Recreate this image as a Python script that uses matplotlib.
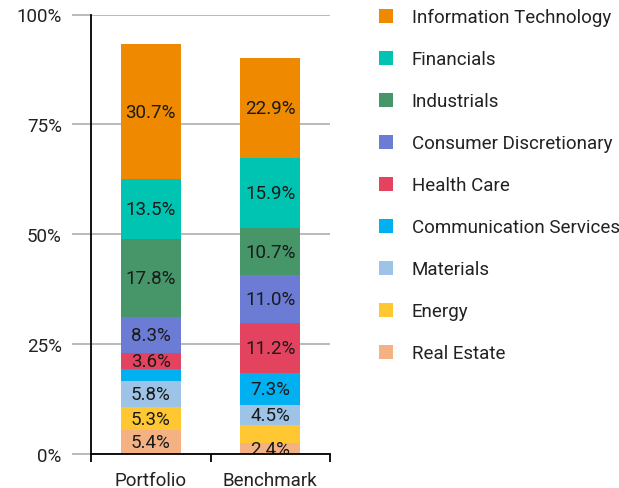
import matplotlib.pyplot as plt
from matplotlib.patches import Patch
from matplotlib.ticker import FixedLocator

plt.rcParams['font.family'] = ['Roboto', 'DejaVu Sans']

# sector weights (%), stacked bottom to top
sectors = ['Real Estate', 'Energy', 'Materials', 'Communication Services',
           'Health Care', 'Consumer Discretionary', 'Industrials',
           'Financials', 'Information Technology']
portfolio = [5.4, 5.3, 5.8, 2.8, 3.6, 8.3, 17.8, 13.5, 30.7]
benchmark = [2.4, 4.3, 4.5, 7.3, 11.2, 11.0, 10.7, 15.9, 22.9]
groups = ['Portfolio', 'Benchmark']
colors = ['#F4B183', '#FFC832', '#9DC3E6', '#00B0F0', '#E3435F',
          '#6C7BD4', '#46966A', '#00C4B2', '#EF8A00']
# segments too thin for a readable label
hidden = {('Portfolio', 'Communication Services'), ('Benchmark', 'Energy')}

fig = plt.figure(figsize=(6.19, 4.89), dpi=100)
ax = fig.add_axes([91 / 619, 1 - 455 / 489, 239 / 619, 439.5 / 489])

x = range(len(groups))
bottoms = [0.0, 0.0]
for i, name in enumerate(sectors):
    vals = [portfolio[i], benchmark[i]]
    bars = ax.bar(x, vals, width=0.5, bottom=bottoms, color=colors[i], zorder=3)
    for j, b in enumerate(bars):
        if (groups[j], name) in hidden:
            continue
        ax.text(b.get_x() + b.get_width() / 2, bottoms[j] + vals[j] / 2,
                f'{vals[j]:.1f}%', ha='center', va='center', fontsize=13.5,
                color='#1a1a1a', zorder=4, clip_on=True)
    bottoms = [bottoms[k] + vals[k] for k in range(2)]

ax.set_xlim(-0.5, 1.5)
ax.set_ylim(0, 100)
ax.set_yticks([0, 25, 50, 75, 100])
ax.set_yticklabels(['0%', '25%', '50%', '75%', '100%'])
ax.grid(axis='y', color='#b4b4b4', linewidth=1.3, zorder=0)
ax.tick_params(axis='y', length=14, width=1.3, color='#b4b4b4', pad=7,
               labelsize=13.5, labelcolor='#222222')

ax.set_xticks(list(x))
ax.set_xticklabels(groups)
ax.xaxis.set_minor_locator(FixedLocator([-0.5, 0.5, 1.5]))
ax.tick_params(axis='x', which='major', length=0, pad=12, labelsize=13.5,
               labelcolor='#222222')
ax.tick_params(axis='x', which='minor', length=6, width=1.3, color='black')

for s in ['top', 'right']:
    ax.spines[s].set_visible(False)
for s in ['left', 'bottom']:
    ax.spines[s].set_linewidth(1.3)
    ax.spines[s].set_zorder(5)

handles = [Patch(facecolor=c, label=n) for c, n in zip(colors, sectors)][::-1]
fig.legend(handles=handles, loc='upper left',
           bbox_to_anchor=(362 / 619, 1 + 7.7 / 489),
           frameon=False, fontsize=13.5, handlelength=0.75, handleheight=0.75,
           handletextpad=1.0, labelspacing=1.28, labelcolor='#222222')

fig.savefig('out.png', dpi=100)
